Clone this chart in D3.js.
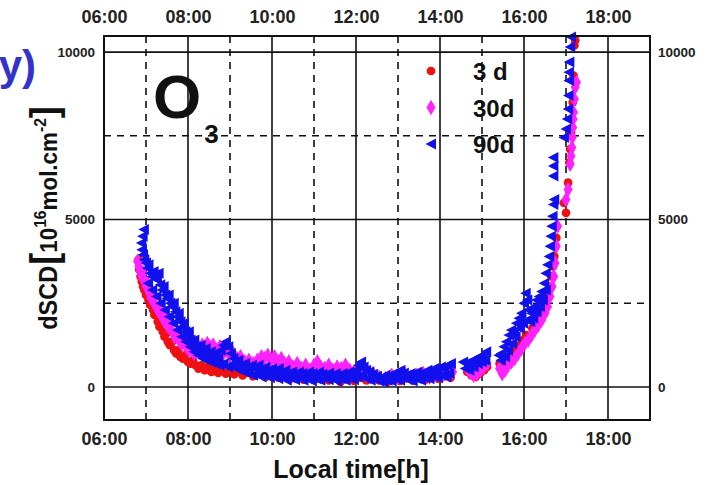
<!DOCTYPE html>
<html>
<head>
<meta charset="utf-8">
<script src="https://cdn.jsdelivr.net/npm/d3@7"></script>
<style>
  body { margin: 0; background: #fff; }
  svg { display: block; font-family: "Liberation Sans", Arial, sans-serif; font-weight: bold; }
</style>
</head>
<body>
<svg id="chart" width="715" height="485"></svg>
<script>
// hours (decimal local time) and dSCD values
const s3d = [
  [6.82,3800],[6.84,3500],[6.87,3300],[6.9,3150],[6.93,3000],[6.96,2900],[7.0,2750],[7.03,2850],
  [7.06,2600],[7.1,2450],[7.13,2550],[7.17,2300],[7.2,2150],[7.24,2250],[7.28,1950],[7.32,1800],
  [7.36,1900],[7.4,1650],[7.44,1500],[7.48,1600],[7.52,1350],[7.57,1250],[7.62,1350],[7.67,1100],
  [7.72,1000],[7.77,1100],[7.82,900],[7.88,850],[7.94,950],[8.0,750],[8.06,700],[8.12,800],
  [8.18,650],[8.25,550],[8.32,650],[8.4,500],[8.48,600],[8.56,450],[8.64,550],[8.72,420],
  [8.8,500],[8.9,400],[9.0,480],[9.1,380],[9.2,450],[9.3,350],[9.42,420],[9.55,320],
  [9.7,400],[9.85,300],[10.0,380],[10.15,280],[10.3,350],[10.45,250],[10.6,320],[10.75,220],
  [10.9,300],[11.05,250],[11.2,320],[11.35,200],[11.5,280],[11.63,150],[11.8,250],[11.95,180],
  [12.1,280],[12.25,200],[12.4,300],[12.55,200],[12.75,150],[12.9,250],[13.05,180],[13.2,260],
  [13.35,200],[13.5,280],[13.65,220],[13.8,300],[13.95,250],[14.1,320],[14.25,280],[14.65,450],
  [14.75,350],[14.85,300],[14.95,400],[15.05,500],[15.12,600],[15.42,700],[15.5,550],[15.58,800],
  [15.66,950],[15.74,1100],[15.82,1000],[15.9,1250],[15.98,1400],[16.05,1550],[16.12,1500],[16.2,1750],
  [16.28,1900],[16.35,2050],[16.42,2300],[16.5,2500],[16.56,2750],[16.61,3000],[16.65,3300],[16.69,3600],
  [16.72,3900],[16.75,4200],[16.77,4450],[16.95,5500],[17.0,5200],[17.05,6100],[17.08,6700],[17.1,7100],
  [17.12,7600],[17.14,8000],[17.16,8500],[17.18,9300],[17.2,10200],[17.22,10350]
];
const s30d = [
  [6.8,3750],[6.83,3600],[6.86,3450],[6.9,3300],[6.93,3400],[6.96,3150],[7.0,3000],[7.04,3100],
  [7.08,2800],[7.12,2650],[7.16,2750],[7.2,2500],[7.24,2400],[7.28,2300],[7.32,2400],[7.36,2200],
  [7.4,2050],[7.44,2150],[7.48,1900],[7.53,1800],[7.58,1900],[7.63,1650],[7.68,1500],[7.73,1600],
  [7.78,1400],[7.84,1300],[7.9,1400],[7.96,1200],[8.02,1100],[8.08,1200],[8.14,1000],[8.2,1050],
  [8.27,1150],[8.34,1250],[8.4,1150],[8.46,1300],[8.52,1200],[8.6,1250],[8.68,1100],[8.76,1200],
  [8.84,1000],[8.92,1100],[9.0,950],[9.08,1000],[9.16,850],[9.25,900],[9.35,750],[9.45,800],
  [9.55,700],[9.65,800],[9.75,900],[9.82,850],[9.9,950],[9.98,800],[10.06,900],[10.14,750],
  [10.22,850],[10.3,700],[10.4,750],[10.5,600],[10.6,700],[10.7,550],[10.8,650],[10.9,500],
  [11.0,650],[11.08,750],[11.16,600],[11.25,550],[11.35,650],[11.45,500],[11.55,600],[11.65,550],
  [11.75,650],[11.85,500],[11.95,450],[12.05,400],[12.15,500],[12.25,350],[12.4,400],[12.55,300],
  [12.7,250],[12.85,350],[13.0,300],[13.15,400],[13.3,300],[13.45,350],[13.6,400],[13.75,300],
  [13.9,380],[14.05,330],[14.2,400],[14.3,450],[14.65,550],[14.72,450],[14.8,350],[14.88,400],
  [14.96,500],[15.04,600],[15.12,700],[15.42,550],[15.48,400],[15.55,500],[15.62,650],[15.7,750],
  [15.78,850],[15.86,1000],[15.94,1150],[16.02,1300],[16.1,1400],[16.18,1550],[16.26,1700],[16.34,1850],
  [16.42,2000],[16.5,2200],[16.56,2400],[16.62,2700],[16.67,3000],[16.71,3300],[16.74,3700],[16.77,4200],
  [16.8,4800],[17.0,5600],[17.05,5900],[17.1,6650],[17.12,6900],[17.14,7150],[17.15,7450],[17.16,7750],
  [17.17,8000],[17.18,8200],[17.2,8600],[17.22,8950],[17.25,9100]
];
const s90d = [
  [6.95,4700],[6.92,4500],[6.89,4300],[6.9,4100],[6.93,3950],[6.96,3800],[7.0,3700],[7.03,3550],
  [7.06,3650],[7.1,3400],[7.14,3300],[7.18,3450],[7.22,3350],[7.26,3200],[7.3,3400],[7.34,3050],
  [7.38,2900],[7.42,3000],[7.46,2750],[7.5,2650],[7.54,2750],[7.58,2500],[7.62,2400],[7.66,2500],
  [7.7,2250],[7.74,2100],[7.78,2200],[7.82,1950],[7.86,1800],[7.9,1900],[7.94,1650],[7.98,1550],
  [8.02,1650],[8.06,1400],[8.1,1300],[8.15,1400],[8.2,1200],[8.25,1150],[8.3,1250],[8.36,1050],
  [8.42,1150],[8.48,950],[8.54,1050],[8.6,900],[8.66,1000],[8.72,850],[8.78,1100],[8.84,1250],
  [8.9,1350],[8.96,1200],[9.02,1000],[9.08,850],[9.14,750],[9.2,800],[9.28,650],[9.36,700],
  [9.44,600],[9.52,650],[9.6,550],[9.68,650],[9.76,500],[9.84,600],[9.92,450],[10.0,550],
  [10.08,450],[10.16,550],[10.24,400],[10.32,500],[10.4,400],[10.48,450],[10.56,350],[10.64,450],
  [10.72,400],[10.8,350],[10.88,450],[10.96,400],[11.04,350],[11.12,450],[11.2,380],[11.28,300],
  [11.36,420],[11.44,350],[11.52,400],[11.6,300],[11.68,400],[11.76,350],[11.84,450],[11.92,400],
  [12.0,500],[12.06,650],[12.12,750],[12.18,600],[12.24,500],[12.32,450],[12.4,380],[12.5,320],
  [12.6,280],[12.7,350],[12.8,300],[12.9,400],[12.98,450],[13.06,500],[13.14,420],[13.22,350],
  [13.3,400],[13.38,300],[13.46,450],[13.54,380],[13.62,420],[13.7,500],[13.78,450],[13.86,550],
  [13.94,500],[14.02,600],[14.1,550],[14.18,650],[14.26,700],[14.55,750],[14.62,700],[14.7,650],
  [14.78,800],[14.86,850],[14.94,900],[15.02,950],[15.1,1050],[15.4,950],[15.46,1000],[15.52,1200],
  [15.58,1350],[15.64,1550],[15.7,1700],[15.76,1600],[15.82,1900],[15.88,2050],[15.94,2200],[16.0,2500],
  [16.04,2800],[16.08,2600],[16.12,2300],[16.18,2200],[16.24,2400],[16.3,2600],[16.36,2700],[16.42,2850],
  [16.48,3100],[16.52,3400],[16.56,3650],[16.6,3900],[16.62,4200],[16.64,4500],[16.66,4800],[16.68,5100],
  [16.7,5450],[16.72,5600],[16.7,6300],[16.7,6600],[16.7,6850],[16.95,7450],[17.0,7700],[17.03,8000],
  [17.05,8300],[17.06,8700],[17.07,9150],[17.07,9400],[17.08,9700],[17.1,10150],[17.12,10450],
  // lower edge of the 90d band
  [7.05,3100],[7.15,2900],[7.25,2700],[7.35,2500],[7.45,2300],[7.55,2100],[7.65,1900],[7.75,1700],
  [7.85,1500],[7.95,1350],[8.05,1200],[8.15,1050],[8.25,950],[8.35,850],[8.45,800],[8.55,750],
  [8.65,700],[8.75,650],[8.85,700],[8.95,600],[9.05,650],[9.15,550],[9.25,500],[9.35,450],
  [9.45,400],[9.55,350],[9.65,420],[9.75,300],[9.85,380],[9.95,280],[10.05,350],[10.15,250],
  [10.25,300],[10.35,200],[10.45,280],[10.55,220],[10.65,300],[10.75,200],[10.85,250],[10.95,180],
  [11.05,250],[11.15,200],[11.25,280],[11.35,220],[11.45,250],[11.55,180],[11.65,250],[11.75,200],
  [11.85,280],[11.95,220],[12.05,300],[12.15,350],[12.25,250],[12.35,200],[12.45,250],[12.55,180],
  [12.65,150],[12.75,200],[12.85,180],[12.95,250],[13.05,200],[13.15,280],[13.25,220],[13.35,180],
  [13.45,250],[13.55,200],[13.65,280],[13.75,250],[13.85,320],[13.95,280],[14.05,350],[14.15,300],
  [14.22,400],[14.6,550],[14.7,500],[14.8,600],[14.9,700],[15.0,750],[15.08,800],[15.45,800],
  [15.55,900],[15.62,1100],[15.72,1300],[15.8,1500],[15.9,1750],[15.98,1900],[16.08,2000],[16.15,1950],
  [16.22,2050],[16.3,2250],[16.38,2400],[16.45,2600],[16.52,2900]
];

const hourTicks = [6, 8, 10, 12, 14, 16, 18];
const valueTicks = [0, 5000, 10000];
const solidHours = [8, 10, 12, 14, 16, 18];
const dashedHours = [7, 9, 11, 13, 15, 17];
const solidValues = [0, 5000, 10000];
const dashedValues = [2500, 7500];
const legendLabels = ["3 d", "30d", "90d"];

const svg = d3.select("#chart");

let x = d3.scaleLinear().domain([6, 19]).range([104, 650]);
let y = d3.scaleLinear().domain([-985, 10480]).range([420, 36]);

// grid
let grid = svg.append("g");
grid.selectAll("line.vs").data(solidHours).enter().append("line")
    .attr("x1", d => x(d)).attr("x2", d => x(d)).attr("y1", y.range()[0]).attr("y2", y.range()[1])
    .attr("stroke", "#111").attr("stroke-width", 1.6);
grid.selectAll("line.vd").data(dashedHours).enter().append("line")
    .attr("x1", d => x(d)).attr("x2", d => x(d)).attr("y1", y.range()[0]).attr("y2", y.range()[1])
    .attr("stroke", "#111").attr("stroke-width", 1.6).attr("stroke-dasharray", "7,6");
grid.selectAll("line.hs").data(solidValues).enter().append("line")
    .attr("y1", d => y(d)).attr("y2", d => y(d)).attr("x1", x.range()[0]).attr("x2", x.range()[1])
    .attr("stroke", "#111").attr("stroke-width", 1.6);
grid.selectAll("line.hd").data(dashedValues).enter().append("line")
    .attr("y1", d => y(d)).attr("y2", d => y(d)).attr("x1", x.range()[0]).attr("x2", x.range()[1])
    .attr("stroke", "#111").attr("stroke-width", 1.6).attr("stroke-dasharray", "7,6");

// axes
let fmt = d => (d < 10 ? "0" : "") + d + ":00";
let axB = svg.append("g").attr("transform", "translate(0,420)")
    .call(d3.axisBottom(x).tickValues(hourTicks).tickFormat(fmt).tickSize(0).tickPadding(12));
let axT = svg.append("g").attr("transform", "translate(0,36)")
    .call(d3.axisTop(x).tickValues(hourTicks).tickFormat(fmt).tickSize(0).tickPadding(13));
let axL = svg.append("g").attr("transform", "translate(104,0)")
    .call(d3.axisLeft(y).tickValues(valueTicks).tickFormat(d3.format("d")).tickSize(0).tickPadding(9));
let axR = svg.append("g").attr("transform", "translate(650,0)")
    .call(d3.axisRight(y).tickValues(valueTicks).tickFormat(d3.format("d")).tickSize(0).tickPadding(8));
[axB, axT, axL, axR].forEach(a => {
    a.select(".domain").remove();
    a.selectAll("text").attr("fill", "#222").style("font-family", "'Liberation Sans', Arial, sans-serif").style("font-weight", "bold");
});
axB.selectAll("text").style("font-size", "18px");
axT.selectAll("text").style("font-size", "18px");
axL.selectAll("text").style("font-size", "13.5px");
axR.selectAll("text").style("font-size", "13.5px");

// markers
let tri = "M-5.5,0L5,-5.5L5,5.5Z";
let circ = d3.symbol().type(d3.symbolCircle).size(60)();
let diam = d3.symbol().type(d3.symbolDiamond).size(70)();
let series = [
    {data: s3d, color: "#ee1111", path: circ},
    {data: s30d, color: "#ff22ff", path: diam},
    {data: s90d, color: "#1111ee", path: tri}
];
let marks = svg.append("g");
series.forEach(function(s) {
    marks.append("g").selectAll("path").data(s.data).enter().append("path")
        .attr("d", s.path)
        .attr("fill", s.color)
        .attr("transform", d => "translate(" + x(d[0]) + "," + y(d[1]) + ")");
});

// frame
svg.append("rect")
    .attr("x", x.range()[0]).attr("y", y.range()[1])
    .attr("width", x.range()[1] - x.range()[0]).attr("height", y.range()[0] - y.range()[1])
    .attr("fill", "none").attr("stroke", "#111").attr("stroke-width", 2);

// legend
let legend = svg.append("g").attr("transform", "translate(431,71)");
legendLabels.forEach(function(lab, i) {
    let row = legend.append("g").attr("transform", "translate(0," + (i * 36.5) + ")");
    row.append("path").attr("d", series[i].path).attr("fill", series[i].color);
    row.append("text").attr("x", 42).attr("y", 9).attr("font-size", 24).attr("fill", "#111").text(lab);
});

// O3 label
let o3 = svg.append("text").attr("x", 153).attr("y", 118).attr("fill", "#111");
o3.append("tspan").attr("font-size", 62).text("O");
o3.append("tspan").attr("font-size", 26).attr("dy", 25).attr("dx", 3).text("3");

// y axis title
let yt = svg.append("g").attr("transform", "translate(57,218) rotate(-90) scale(1.12,1.2)")
    .append("text").attr("text-anchor", "middle").attr("fill", "#111");
yt.append("tspan").attr("font-size", 21).text("dSCD");
yt.append("tspan").attr("font-size", 32).attr("dx", 1).text("[");
yt.append("tspan").attr("font-size", 20).text("10");
yt.append("tspan").attr("font-size", 14).attr("dy", -9).text("16");
yt.append("tspan").attr("font-size", 20).attr("dy", 9).text("mol.cm");
yt.append("tspan").attr("font-size", 14).attr("dy", -9).text("-2");
yt.append("tspan").attr("font-size", 32).attr("dy", 9).text("]");

// x axis title
svg.append("text").attr("x", 351).attr("y", 478).attr("text-anchor", "middle")
    .attr("font-size", 25).attr("fill", "#111").text("Local time[h]");

// leftover of the slide title, cut by the crop
svg.append("text").attr("x", 36).attr("y", 80).attr("text-anchor", "end")
    .attr("font-size", 42).attr("fill", "#3333cc").text("y)");
</script>
</body>
</html>
